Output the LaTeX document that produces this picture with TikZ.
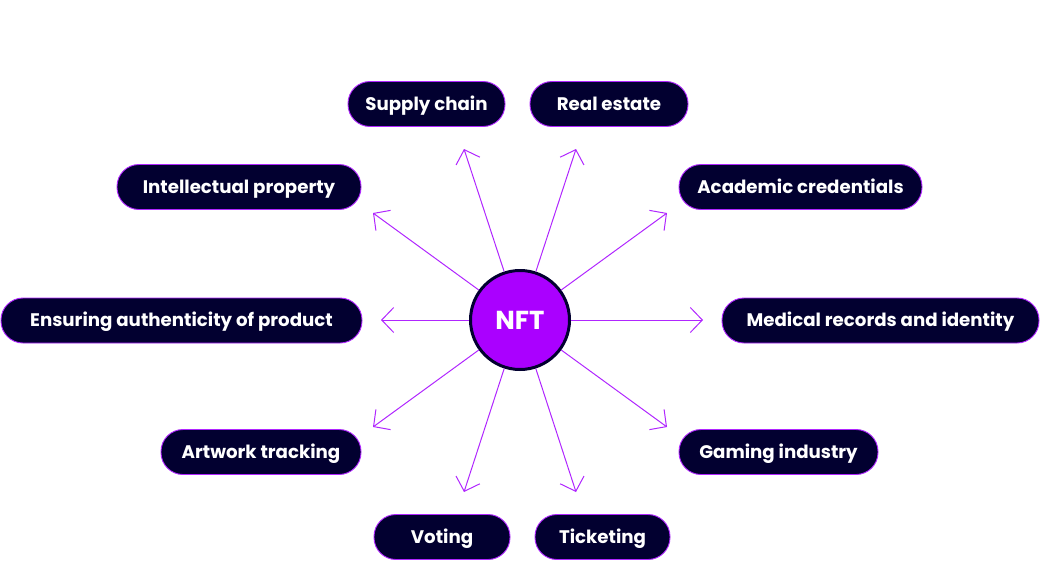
\documentclass[tikz,border=0pt]{standalone}
\usepackage{fontspec}
\setmainfont{Poppins}
\usetikzlibrary{arrows.meta}
\definecolor{navy}{RGB}{2,0,48}
\definecolor{violet}{RGB}{176,38,255}
\definecolor{nftfill}{RGB}{170,0,255}
\tikzset{
  pill/.style={rectangle, rounded corners=22pt, fill=navy, draw=violet, line width=0.9pt,
    minimum height=45pt, inner xsep=0pt, inner ysep=0pt, text height=12.8pt, text depth=0pt,
    text=white, font=\fontsize{18.2}{20}\selectfont\bfseries},
  hub/.style={circle, fill=nftfill, draw=navy, line width=3pt, minimum size=99pt, inner sep=0pt,
    text height=18pt, text depth=0pt,
    text=white, font=\fontsize{26}{28}\selectfont\bfseries},
  arr/.style={draw=violet, line width=1pt, -{Straight Barb[length=12pt,width=25pt,line width=1pt]}}
}
\begin{document}
\begin{tikzpicture}[x=1pt,y=-1pt]
\useasboundingbox (0,0) rectangle (1040,562);
\node[hub] (nft) at (520,320) {NFT};
\node[pill, minimum width=157pt] (sc) at (426.5,104) {Supply chain};
\node[pill, minimum width=158pt] (re) at (609,104) {Real estate};
\node[pill, minimum width=244pt] (ip) at (239,187) {Intellectual property};
\node[pill, minimum width=243pt] (ac) at (800.5,187) {Academic credentials};
\node[pill, minimum width=361pt] (ea) at (181.5,320.5) {Ensuring authenticity of product};
\node[pill, minimum width=317pt] (mr) at (880.5,320.5) {Medical records and identity};
\node[pill, minimum width=200pt] (at) at (261,452) {Artwork tracking};
\node[pill, minimum width=199pt] (gi) at (778.5,452) {Gaming industry};
\node[pill, minimum width=136pt] (vo) at (442,537) {Voting};
\node[pill, minimum width=135pt] (ti) at (602.5,537) {Ticketing};
\coordinate (tsc) at (464,149);
\coordinate (tre) at (576,149);
\coordinate (tip) at (373,213);
\coordinate (tac) at (667,213);
\coordinate (tea) at (381,320);
\coordinate (tmr) at (703,320);
\coordinate (tat) at (373,427);
\coordinate (tgi) at (667,427);
\coordinate (tvo) at (464,492);
\coordinate (tti) at (576,492);
\foreach \t in {tsc,tre,tip,tac,tea,tmr,tat,tgi,tvo,tti}
  \draw[arr] (nft) -- (\t);
\end{tikzpicture}
\end{document}
